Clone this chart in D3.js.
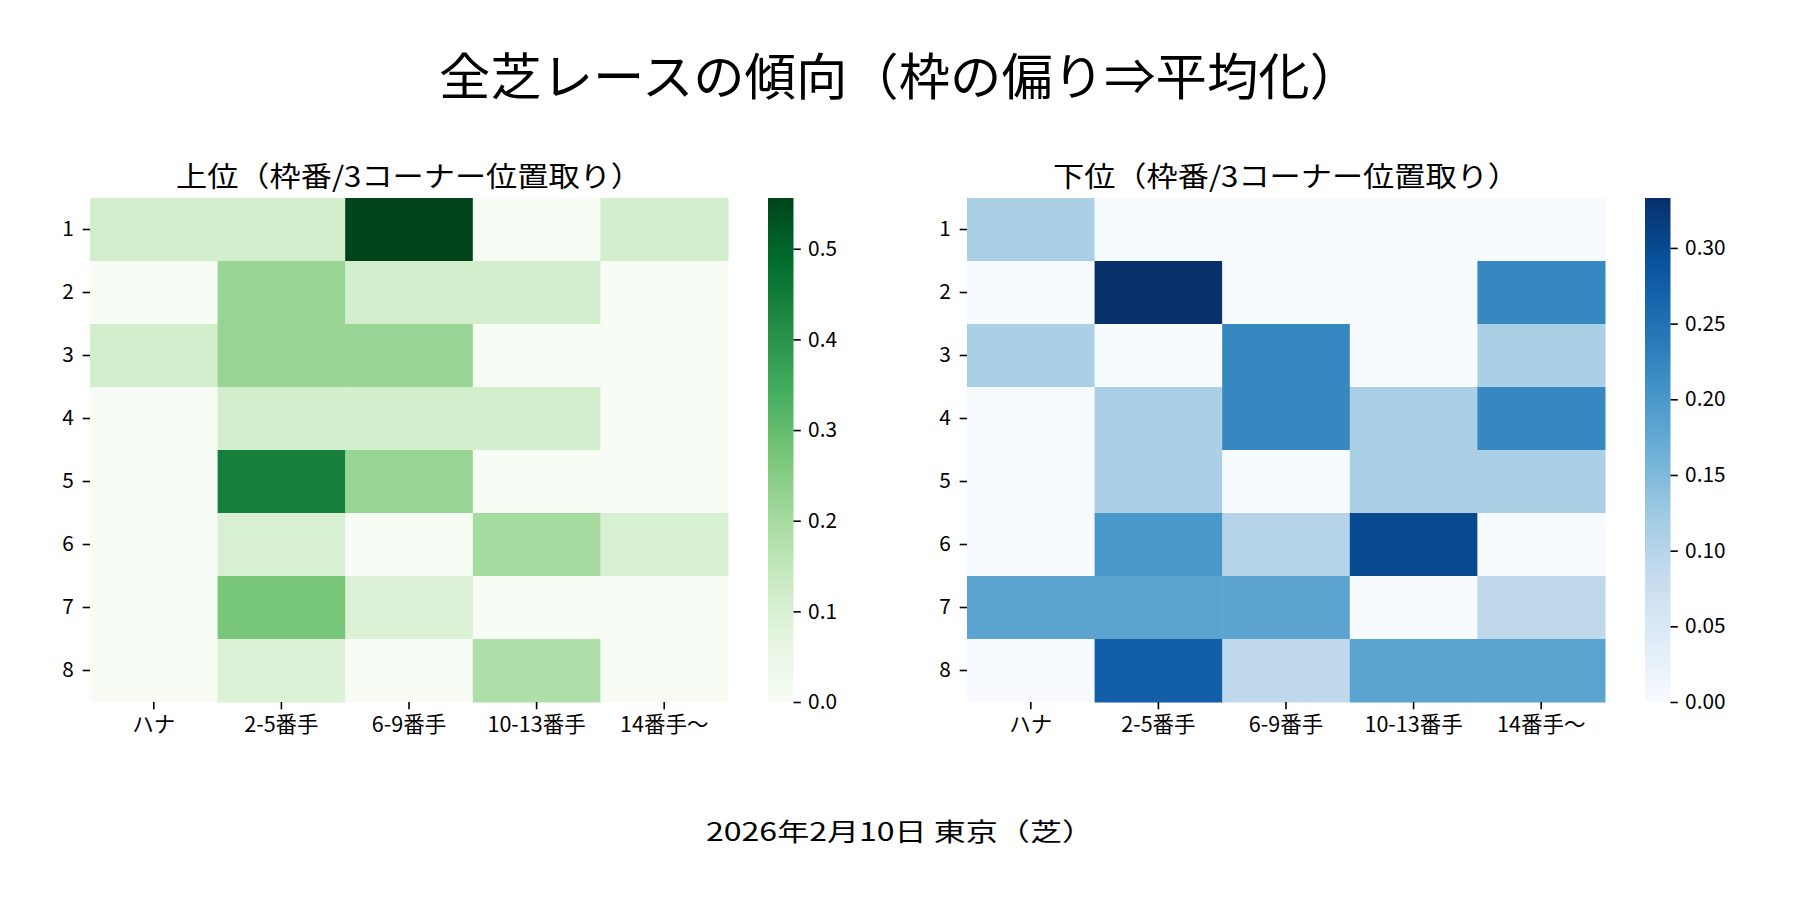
<!DOCTYPE html>
<html>
<head>
<meta charset="utf-8">
<script src="https://cdn.jsdelivr.net/npm/d3@7"></script>
<style>
  body { margin: 0; background: #fff; }
  svg { display: block; }
  text { font-family: "Noto Sans CJK JP", "Noto Sans", sans-serif; fill: #000; }
  .tick line { stroke: #000; stroke-width: 1.6; }
</style>
</head>
<body>
<svg width="1800" height="900"></svg>
<script>
const rowLabels = ["1", "2", "3", "4", "5", "6", "7", "8"];
const colLabels = ["ハナ", "2-5番手", "6-9番手", "10-13番手", "14番手〜"];

// 上位
const upperValues = [
    [0.111, 0.111, 0.556, 0, 0.111],
    [0, 0.222, 0.111, 0.111, 0],
    [0.111, 0.222, 0.222, 0, 0],
    [0, 0.111, 0.111, 0.111, 0],
    [0, 0.444, 0.222, 0, 0],
    [0, 0.1, 0, 0.2, 0.1],
    [0, 0.273, 0.091, 0, 0],
    [0, 0.091, 0, 0.182, 0]
];
// 下位
const lowerValues = [
    [0.111, 0, 0, 0, 0],
    [0, 0.333, 0, 0, 0.222],
    [0.111, 0, 0.222, 0, 0.111],
    [0, 0.111, 0.222, 0.111, 0.222],
    [0, 0.111, 0, 0.111, 0.111],
    [0, 0.2, 0.1, 0.3, 0],
    [0.182, 0.182, 0.182, 0, 0.091],
    [0, 0.273, 0.091, 0.182, 0.182]
];
const upperTicks = [0, 0.1, 0.2, 0.3, 0.4, 0.5];
const lowerTicks = [0, 0.05, 0.10, 0.15, 0.20, 0.25, 0.30];

const greens = ["#f7fcf5","#e5f5e0","#c7e9c0","#a1d99b","#74c476","#41ab5d","#238b45","#006d2c","#00441b"];
const blues = ["#f7fbff","#deebf7","#c6dbef","#9ecae1","#6baed6","#4292c6","#2171b5","#08519c","#08306b"];

const svg = d3.select("svg");
const tickLen = 7.3, tickPad = 7.3, tickFont = "20.8px";

svg.append("text")
    .attr("x", 900).attr("y", 73)
    .attr("text-anchor", "middle").attr("dominant-baseline", "central")
    .attr("textLength", 922).attr("lengthAdjust", "spacingAndGlyphs")
    .style("font-size", "50px")
    .text("全芝レースの傾向（枠の偏り⇒平均化）");

svg.append("text")
    .attr("x", 900).attr("y", 830)
    .attr("text-anchor", "middle").attr("dominant-baseline", "central")
    .attr("textLength", 388).attr("lengthAdjust", "spacingAndGlyphs")
    .style("font-size", "25px")
    .text("2026年2月10日 東京（芝）");

function heatmap(opts) {
    const {x0, title, values, colors, ticks, fmt, id} = opts;
    const top = 198, h = 504, w = 638;
    const vmax = d3.max(values.flat());
    const color = d3.scaleSequential(d3.piecewise(d3.interpolateRgb, colors)).domain([0, vmax]);

    const x = d3.scaleBand().domain(colLabels).range([x0, x0 + w]);
    const y = d3.scaleBand().domain(rowLabels).range([top, top + h]);

    const cells = [];
    values.forEach((row, i) => row.forEach((v, j) => cells.push({r: rowLabels[i], c: colLabels[j], v: v})));

    svg.append("g").selectAll("rect")
        .data(cells)
        .join("rect")
        .attr("x", d => x(d.c))
        .attr("y", d => y(d.r))
        .attr("width", x.bandwidth() + 0.5)
        .attr("height", y.bandwidth() + 0.5)
        .attr("fill", d => color(d.v));

    svg.append("text")
        .attr("x", x0 + w / 2).attr("y", 174.5)
        .attr("text-anchor", "middle").attr("dominant-baseline", "central")
        .attr("textLength", 466).attr("lengthAdjust", "spacingAndGlyphs")
        .style("font-size", "28px")
        .text(title);

    const gy = svg.append("g")
        .attr("transform", `translate(${x0},0)`)
        .call(d3.axisLeft(y).tickSize(tickLen).tickPadding(9));
    gy.select(".domain").remove();
    gy.selectAll("text").style("font-size", tickFont);

    const gx = svg.append("g")
        .attr("transform", `translate(0,${top + h})`)
        .call(d3.axisBottom(x).tickSize(tickLen).tickPadding(tickPad));
    gx.select(".domain").remove();
    gx.selectAll("text").style("font-size", "21.5px");

    // colorbar
    const cbx = x0 + w + 40, cbw = 25.5;
    const cs = d3.scaleLinear().domain([0, vmax]).range([top + h, top]);
    const grad = svg.append("defs").append("linearGradient")
        .attr("id", id).attr("x1", 0).attr("y1", 1).attr("x2", 0).attr("y2", 0);
    grad.selectAll("stop")
        .data(d3.range(0, 1.0001, 0.02))
        .join("stop")
        .attr("offset", d => d)
        .attr("stop-color", d => color(d * vmax));
    svg.append("rect")
        .attr("x", cbx).attr("y", top)
        .attr("width", cbw).attr("height", h)
        .attr("fill", `url(#${id})`);
    const gc = svg.append("g")
        .attr("transform", `translate(${cbx + cbw},0)`)
        .call(d3.axisRight(cs).tickValues(ticks).tickFormat(d3.format(fmt)).tickSize(tickLen).tickPadding(tickPad));
    gc.select(".domain").remove();
    gc.selectAll("text").style("font-size", tickFont);
}

heatmap({x0: 90, title: "上位（枠番/3コーナー位置取り）", values: upperValues,
         colors: greens, ticks: upperTicks, fmt: ".1f", id: "gGreen"});
heatmap({x0: 967, title: "下位（枠番/3コーナー位置取り）", values: lowerValues,
         colors: blues, ticks: lowerTicks, fmt: ".2f", id: "gBlue"});
</script>
</body>
</html>
